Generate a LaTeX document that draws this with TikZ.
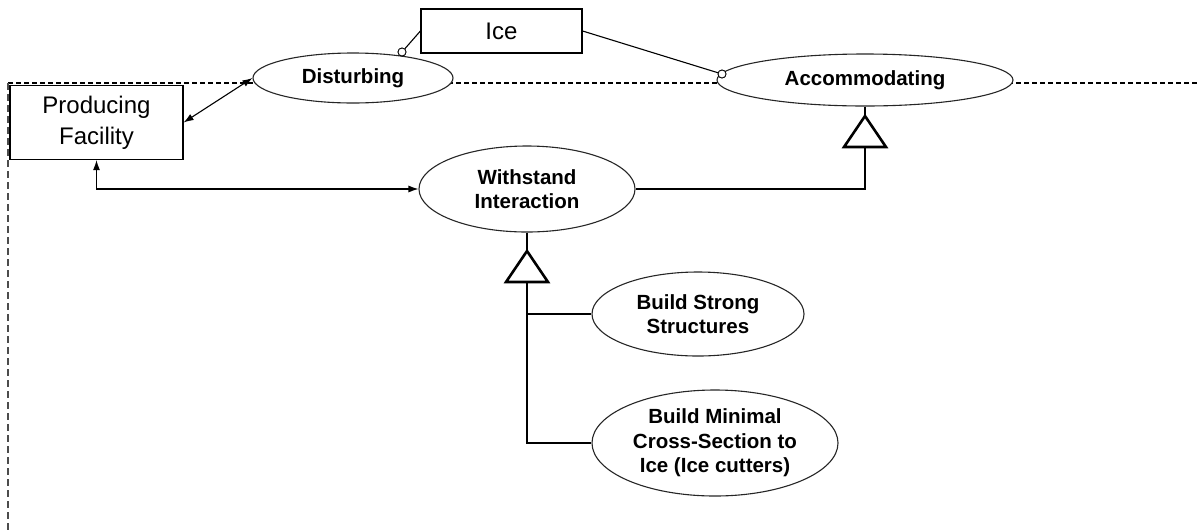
\documentclass[tikz,border=0pt]{standalone}
\usepackage{fontspec}
\setmainfont{Liberation Sans}
\usetikzlibrary{shapes.geometric,arrows.meta}
\begin{document}
\begin{tikzpicture}[x=1pt,y=-1pt,
  usecase/.style={ellipse,draw=black!85,line width=1.1pt,fill=white,inner sep=0pt,
    align=center,font=\fontsize{20.5}{24.5}\selectfont\bfseries},
  actor/.style={rectangle,draw,line width=1.2pt,fill=white,inner sep=0pt,
    align=center,font=\fontsize{24}{31}\selectfont},
  wire/.style={line width=1.1pt},
  gen/.style={line width=2.6pt},
  tri/.style={line width=2.6pt,fill=white,line join=miter},
  port/.style={circle,draw,fill=white,inner sep=0pt,minimum size=8pt,line width=0.8pt},
  biarrow/.style={wire,{Latex[length=10pt,width=7pt]}-{Latex[length=10pt,width=7pt]}},
  boundary/.style={line width=1.2pt,dash pattern=on 5pt off 3pt},
  sideboundary/.style={line width=2pt,black!70,dash pattern=on 7pt off 4pt}
]
\useasboundingbox (0,0) rectangle (1199,531);

% system boundary
\draw[boundary] (8,83) -- (1199,83);
\draw[sideboundary] (8,83) -- (8,531);

% actors
\node[actor,minimum width=173pt,minimum height=74pt] (pf) at (96.5,122.5) {Producing\\Facility};
\node[actor,minimum width=161pt,minimum height=44pt] (ice) at (501.5,31) {Ice};

% use cases
\node[usecase,minimum width=200pt,minimum height=50pt] (dist) at (353,78) {Disturbing};
\node[usecase,minimum width=296pt,minimum height=52pt] (acc) at (865,80) {Accommodating};
\node[usecase,minimum width=216pt,minimum height=86pt] (wi) at (527,189) {Withstand\\Interaction};
\node[usecase,minimum width=212pt,minimum height=84pt] (bs) at (698,314) {Build Strong\\Structures};
\node[usecase,minimum width=246pt,minimum height=106pt] (bm) at (715,443) {Build Minimal\\Cross-Section to\\Ice (Ice cutters)};

% associations
\draw[biarrow] (pf.east) -- (dist.west);
\draw[biarrow] (pf.south) |- (wi.west);

\node[port] (p1) at (402,52) {};
\node[port] (p2) at (722,74) {};
\draw[wire] (ice.west) -- (p1);
\draw[wire] (ice.east) -- (p2);
\node[port] at (p1) {};
\node[port] at (p2) {};

% generalization: Withstand Interaction -> Accommodating
\coordinate (ta) at (865,116);
\coordinate (tab) at (865,147);
\draw[gen] (acc.south) -- (ta);
\draw[tri] (ta) -- ++(-21,31) -- ++(42,0) -- cycle;
\draw[gen] (tab) |- (wi.east);

% generalization: build strategies -> Withstand Interaction
\coordinate (tw) at (527,251);
\coordinate (twb) at (527,282);
\draw[gen] (wi.south) -- (tw);
\draw[tri] (tw) -- ++(-21,31) -- ++(42,0) -- cycle;
\draw[gen] (twb) |- (bm.west);
\draw[gen] (twb |- bs.west) -- (bs.west);
\end{tikzpicture}
\end{document}
